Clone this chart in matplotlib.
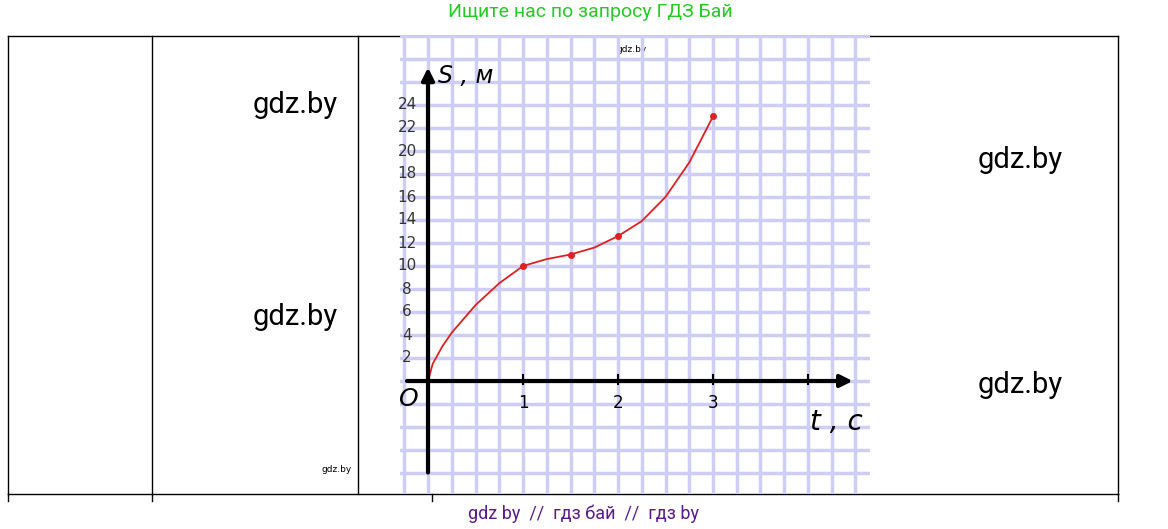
import matplotlib.pyplot as plt
import numpy as np

# curve
t_curve = [0, 0.05, 0.15, 0.25, 0.5, 0.75, 1.0, 1.25, 1.5, 1.75, 2.0, 2.25, 2.5, 2.75, 3.0]
s_curve = [0, 1.5, 3.0, 4.2, 6.6, 8.5, 10.0, 10.6, 11.0, 11.6, 12.6, 13.9, 16.0, 19.0, 23.0]
t_marks = [1, 1.5, 2, 3]
s_marks = [10, 11, 12.6, 23]
y_labels = [2, 4, 6, 8, 10, 12, 14, 16, 18, 20, 22, 24]
x_labels = [1, 2, 3]

W, H = 1168, 529
fig = plt.figure(figsize=(W / 100, H / 100), dpi=100)
bg = fig.add_axes([0, 0, 1, 1])
bg.set_xlim(0, W)
bg.set_ylim(H, 0)
bg.axis('off')

# table frame
bg.plot([8, 1118], [36, 36], color='black', lw=1)
bg.plot([8, 1118], [494, 494], color='black', lw=1)
for x in [8, 152, 358, 1118]:
    bg.plot([x, x], [36, 494], color='black', lw=1)
for x in [8, 152, 432, 1118]:
    bg.plot([x, x], [494, 501], color='black', lw=1)

bg.text(590, 12, 'Ищите нас по запросу ГДЗ Бай', color='#22cc22', fontsize=14,
        ha='center', va='center', family='Roboto')
bg.text(583, 514, 'gdz by  //  гдз бай  //  гдз by', color='#5a1a8c', fontsize=13,
        ha='center', va='center', family='Roboto')
for x, y in [(295, 105), (295, 317), (1020, 160), (1020, 385)]:
    bg.text(x, y, 'gdz.by', fontsize=21, ha='center', va='center', family='Roboto')
bg.text(632, 50, 'gdz.by', fontsize=6.5, ha='center', va='center')
bg.text(337, 470, 'gdz.by', fontsize=6.5, ha='center', va='center')

# grid paper chart
x0, x1, y0, y1 = 400, 870, 36, 494
ax = fig.add_axes([x0 / W, 1 - y1 / H, (x1 - x0) / W, (y1 - y0) / H])
px_t, px_s = 95.0, 11.5
ox, oy = 428, 381
ax.set_xlim((x0 - ox) / px_t, (x1 - ox) / px_t)
ax.set_ylim(-(y1 - oy) / px_s, (oy - y0) / px_s)
ax.axis('off')
for gx in np.arange(-0.25, 4.75, 0.25):
    ax.axvline(gx, color='#cdcdf5', lw=2.5, zorder=0)
for gy in np.arange(-10, 31, 2):
    ax.axhline(gy, color='#cdcdf5', lw=2.5, zorder=0)

ax.annotate('', xy=(4.5, 0), xytext=(-0.25, 0),
            arrowprops=dict(arrowstyle='-|>', color='black', lw=3, mutation_scale=18))
ax.annotate('', xy=(0, 27.5), xytext=(0, -8.2),
            arrowprops=dict(arrowstyle='-|>', color='black', lw=3, mutation_scale=18))
for v in x_labels + [4]:
    ax.plot([v, v], [-0.3, 0.5], color='black', lw=1.5)
for v in x_labels:
    ax.text(v, -1.9, str(v), fontsize=12, ha='center', va='center')
for v in y_labels:
    ax.text(-0.22, v, str(v), fontsize=11, ha='center', va='center', color='#333333')
ax.text(-0.2, -1.6, 'O', fontsize=18, ha='center', va='center', fontstyle='italic')
ax.text(0.1, 26.5, 'S , м', fontsize=17, ha='left', va='center', fontstyle='italic')
ax.text(4.3, -3.6, 't , c', fontsize=20, ha='center', va='center', fontstyle='italic')

ax.plot(t_curve, s_curve, color='#e02020', lw=1.3)
ax.plot(t_marks, s_marks, 'o', color='#e02020', ms=4)

fig.savefig('out.png', dpi=100)
